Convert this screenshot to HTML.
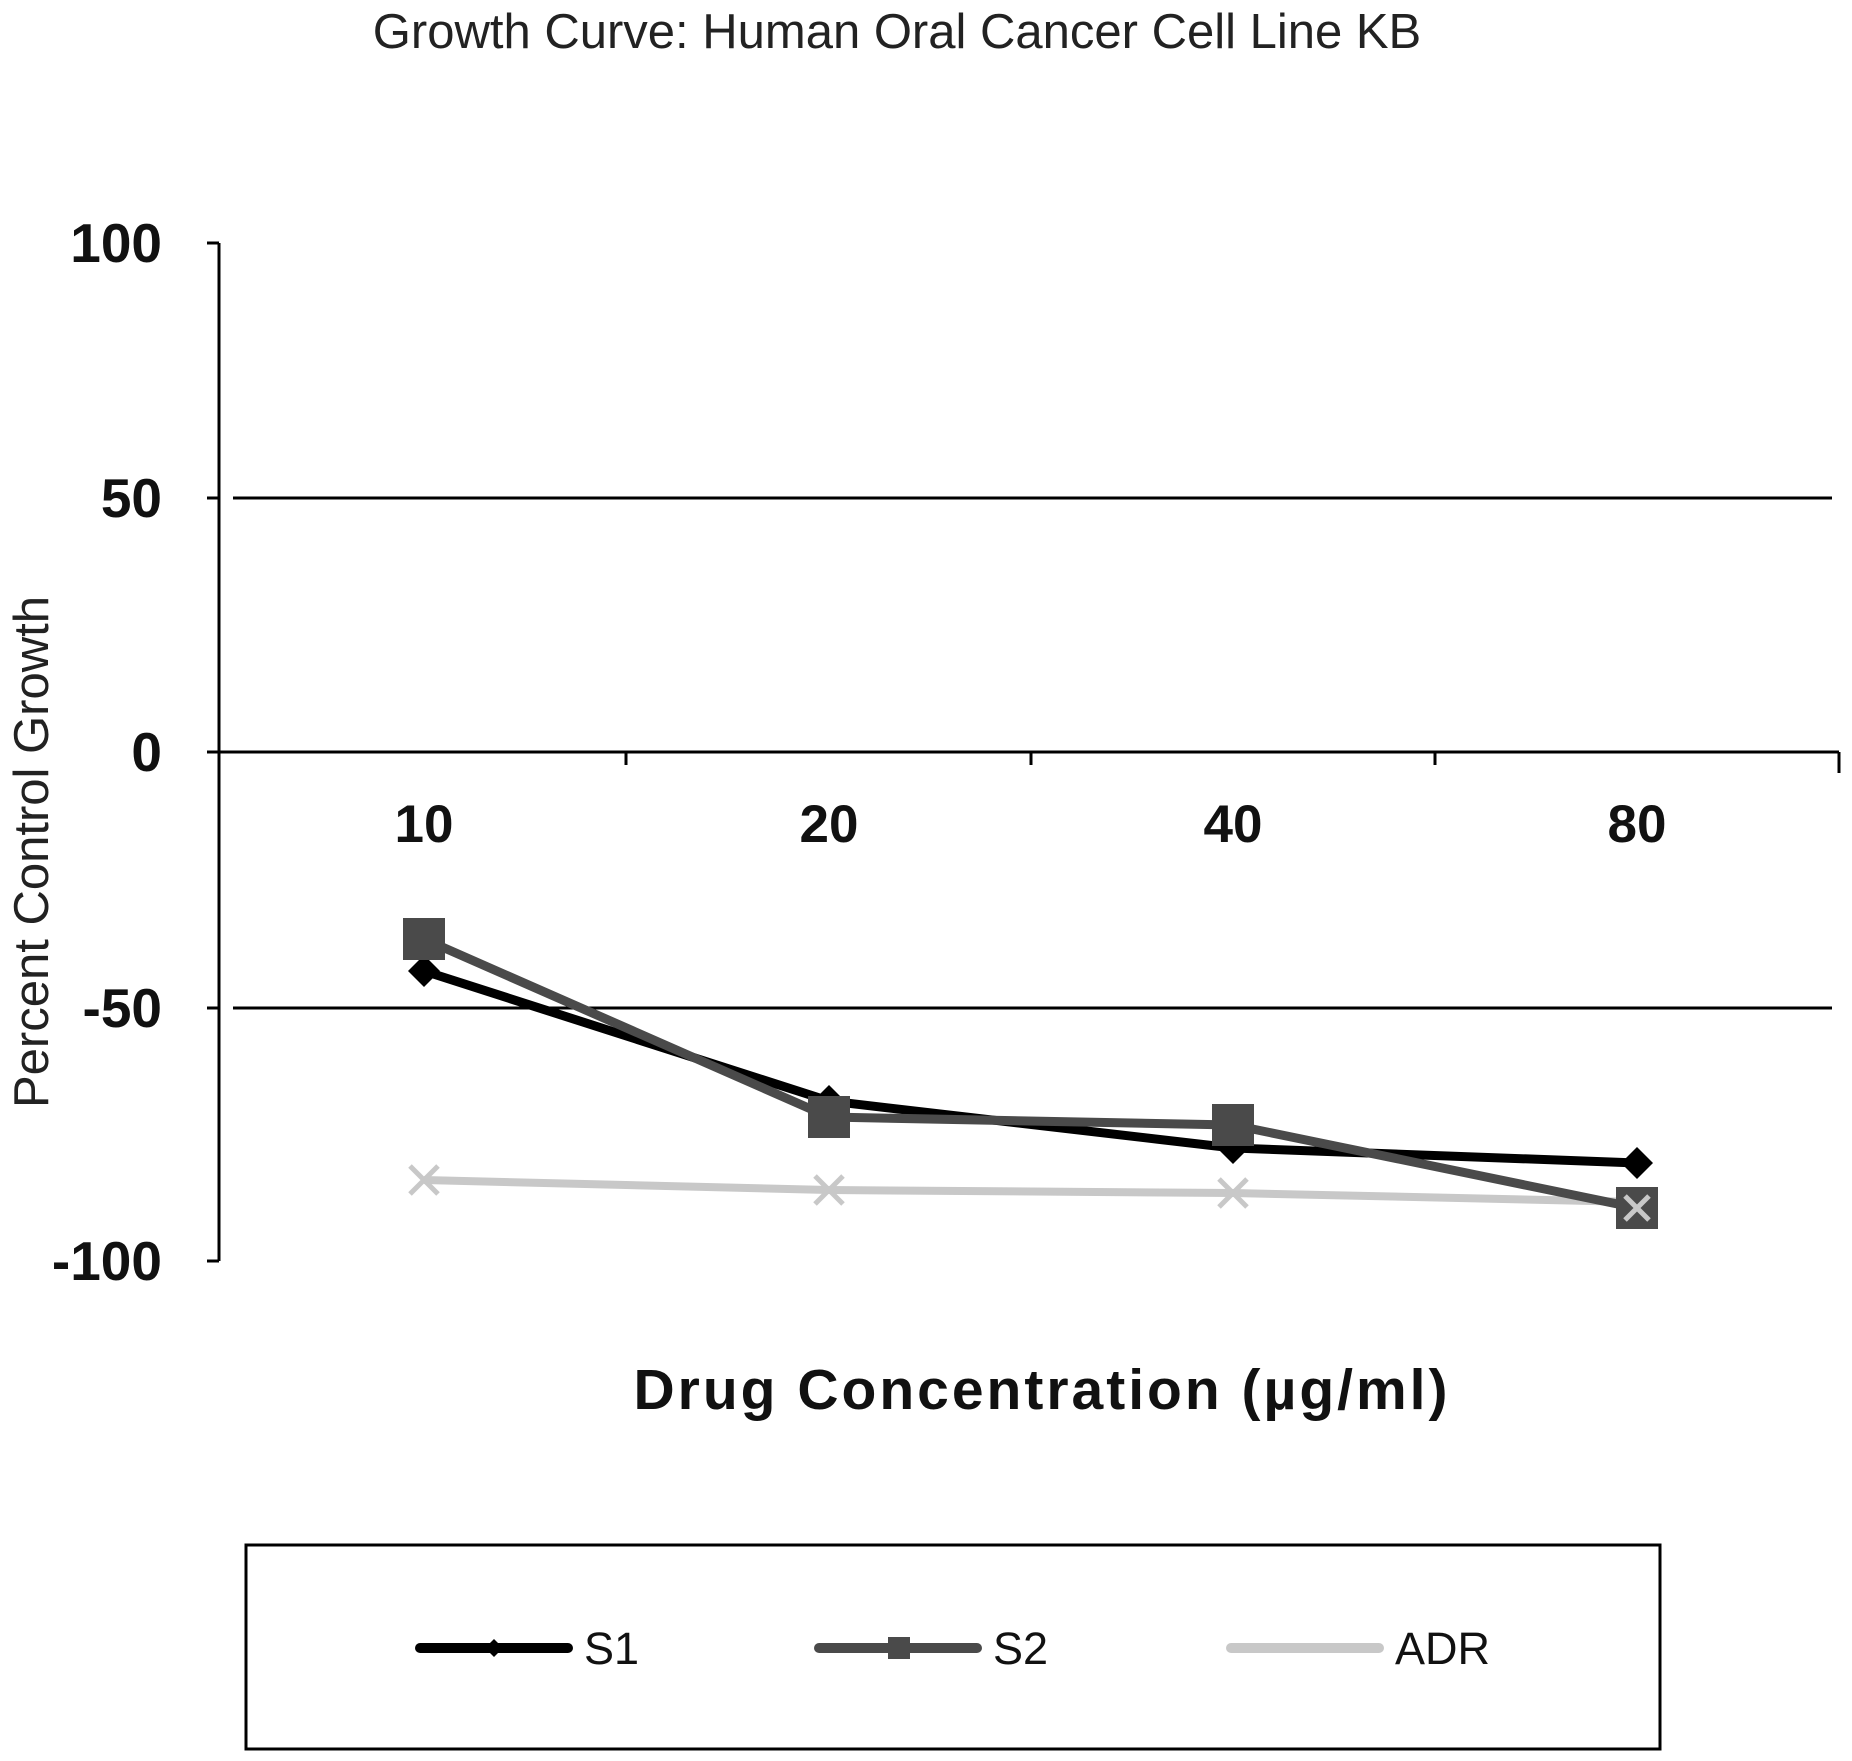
<!DOCTYPE html>
<html><head><meta charset="utf-8"><style>
html,body{margin:0;padding:0;background:#fff;}
svg{display:block;}
text{font-family:"Liberation Sans",Arial,sans-serif;}
</style></head><body>
<svg width="1852" height="1761" viewBox="0 0 1852 1761" xmlns="http://www.w3.org/2000/svg">
<rect width="1852" height="1761" fill="#fff"/>
<text x="897" y="48" font-size="49" text-anchor="middle" fill="#222">Growth Curve: Human Oral Cancer Cell Line KB</text>
<line x1="219" y1="243" x2="219" y2="1261" stroke="#000" stroke-width="3"/>
<g stroke="#000" stroke-width="3">
<line x1="207" y1="243" x2="219" y2="243"/>
<line x1="207" y1="498" x2="219" y2="498"/>
<line x1="207" y1="1008" x2="219" y2="1008"/>
<line x1="207" y1="1261" x2="219" y2="1261"/>
<line x1="233" y1="498" x2="1832" y2="498"/>
<line x1="233" y1="1008" x2="1832" y2="1008"/>
<line x1="207" y1="752" x2="1839" y2="752"/>
<line x1="626" y1="752" x2="626" y2="765"/>
<line x1="1031" y1="752" x2="1031" y2="765"/>
<line x1="1435" y1="752" x2="1435" y2="765"/>
<line x1="1839" y1="752" x2="1839" y2="773"/>
</g>
<g font-size="55" font-weight="bold" text-anchor="end" fill="#111">
<text x="162" y="262">100</text>
<text x="162" y="517">50</text>
<text x="162" y="771">0</text>
<text x="162" y="1027">-50</text>
<text x="162" y="1280">-100</text>
</g>
<g font-size="53" font-weight="bold" text-anchor="middle" fill="#111">
<text x="424" y="842">10</text>
<text x="829" y="842">20</text>
<text x="1233" y="842">40</text>
<text x="1637" y="842">80</text>
</g>
<text x="1042" y="1409" font-size="57" font-weight="bold" text-anchor="middle" fill="#111" letter-spacing="3">Drug Concentration (µg/ml)</text>
<text transform="translate(48,852) rotate(-90)" font-size="49" text-anchor="middle" fill="#222">Percent Control Growth</text>
<polyline points="424,1180 829,1190 1233,1193 1637,1202" fill="none" stroke="#c8c8c8" stroke-width="8"/>
<g stroke="#c8c8c8" stroke-width="5">
<path d="M410,1166 L438,1194 M438,1166 L410,1194"/>
<path d="M815,1176 L843,1204 M843,1176 L815,1204"/>
<path d="M1219,1179 L1247,1207 M1247,1179 L1219,1207"/>
</g>
<polyline points="424,971 829,1101 1233,1148 1637,1163" fill="none" stroke="#000" stroke-width="9"/>
<g fill="#000">
<path d="M424,955 L440,971 L424,987 L408,971Z"/>
<path d="M829,1085 L845,1101 L829,1117 L813,1101Z"/>
<path d="M1233,1132 L1249,1148 L1233,1164 L1217,1148Z"/>
<path d="M1637,1147 L1653,1163 L1637,1179 L1621,1163Z"/>
</g>
<polyline points="424,939 829,1117 1233,1125 1637,1208" fill="none" stroke="#4a4a4a" stroke-width="9"/>
<g fill="#4a4a4a">
<rect x="403" y="918" width="42" height="42"/>
<rect x="808" y="1096" width="42" height="42"/>
<rect x="1212" y="1104" width="42" height="42"/>
<rect x="1616" y="1187" width="42" height="42"/>
</g>
<path d="M1625,1196 L1649,1220 M1649,1196 L1625,1220" stroke="#c8c8c8" stroke-width="5"/>
<rect x="246" y="1545" width="1414" height="204" fill="none" stroke="#000" stroke-width="3"/>
<line x1="420" y1="1648" x2="568" y2="1648" stroke="#000" stroke-width="10" stroke-linecap="round"/>
<path d="M494,1639 L503,1648 L494,1657 L485,1648Z" fill="#000"/>
<text x="584" y="1664" font-size="45" fill="#111">S1</text>
<line x1="819" y1="1648" x2="977" y2="1648" stroke="#4a4a4a" stroke-width="10" stroke-linecap="round"/>
<rect x="888" y="1637" width="22" height="22" fill="#4a4a4a"/>
<text x="993" y="1664" font-size="45" fill="#111">S2</text>
<line x1="1231" y1="1648" x2="1379" y2="1648" stroke="#c8c8c8" stroke-width="10" stroke-linecap="round"/>
<text x="1395" y="1664" font-size="45" fill="#111">ADR</text>
</svg>
</body></html>
